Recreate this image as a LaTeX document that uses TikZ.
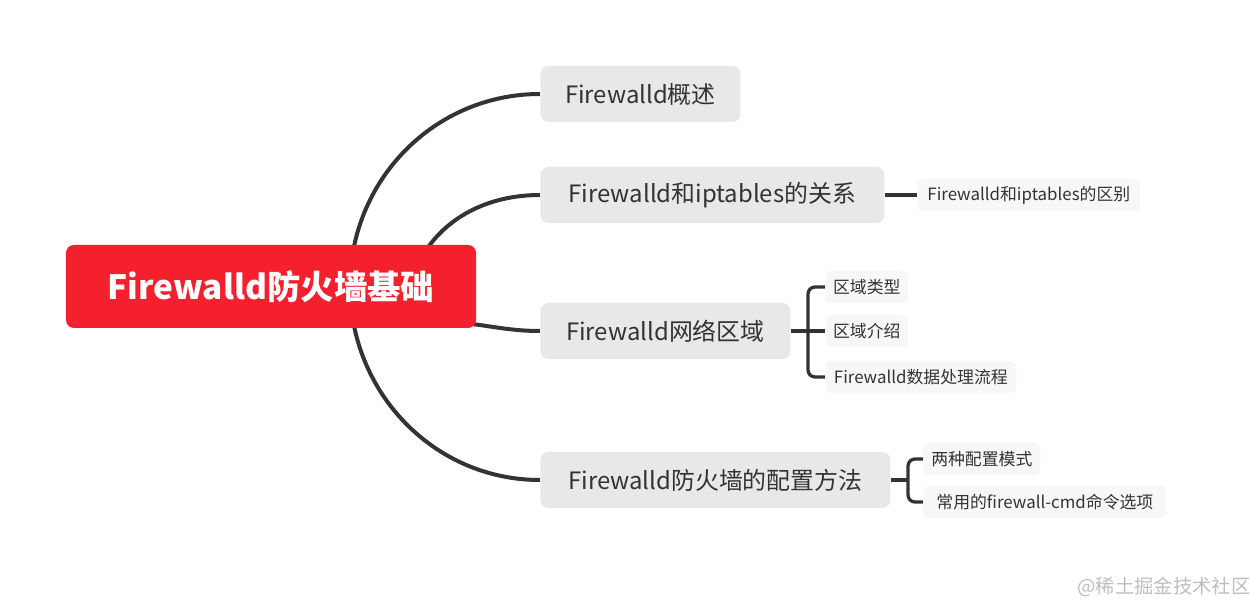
\documentclass[tikz,border=0pt]{standalone}
\usepackage{fontspec}
\setmainfont{Noto Sans CJK SC}
\usepackage{xcolor}
\usetikzlibrary{positioning, backgrounds}
\definecolor{rootred}{RGB}{245,32,45}
\definecolor{topicgray}{RGB}{232,232,232}
\definecolor{subgray}{RGB}{247,247,247}
\definecolor{inkdark}{RGB}{51,51,51}
\definecolor{markgray}{RGB}{190,190,190}
\tikzset{
  rootbox/.style={
    rounded corners=1.6mm, fill=rootred, text=white,
    minimum width=82mm, minimum height=16.6mm,
    font=\fontsize{19}{22}\selectfont\bfseries
  },
  topicbox/.style={
    rounded corners=1.6mm, fill=topicgray, text=inkdark, anchor=west,
    minimum height=11.2mm, inner xsep=2pt,
    font=\fontsize{13.6}{16}\selectfont
  },
  subbox/.style={
    rounded corners=1.2mm, fill=subgray, text=inkdark, anchor=west,
    minimum height=6.4mm, inner xsep=2pt,
    font=\fontsize{9.6}{11}\selectfont
  },
  topicline/.style={line width=0.8mm, draw=inkdark},
  subline/.style={line width=0.65mm, draw=inkdark, rounded corners=1.4mm},
  marknote/.style={text=markgray, font=\fontsize{11}{13}\selectfont},
}
\begin{document}
\begin{tikzpicture}[x=0.2mm, y=-0.2mm]
  \useasboundingbox (0,0) rectangle (1250,606);

  % Root
  \node[rootbox] (root) at (271,286.5) {Firewalld防火墙基础};

  % Topics
  \node[topicbox, minimum width=40mm] (t1) at (540,94) {Firewalld概述};
  \node[topicbox, minimum width=68.8mm] (t2) at (540,195) {Firewalld和iptables的关系};
  \node[topicbox, minimum width=50mm] (t3) at (540,331) {Firewalld网络区域};
  \node[topicbox, minimum width=70mm] (t4) at (540,480) {Firewalld防火墙的配置方法};

  % Details
  \node[subbox, minimum width=44.6mm] (s21) at (917,195) {Firewalld和iptables的区别};
  \node[subbox, minimum width=16.6mm] (s31) at (825,287) {区域类型};
  \node[subbox, minimum width=16.6mm] (s32) at (825,331) {区域介绍};
  \node[subbox, minimum width=38.2mm] (s33) at (825,377) {Firewalld数据处理流程};
  \node[subbox, minimum width=23.4mm] (s41) at (923,459) {两种配置模式};
  \node[subbox, minimum width=48.6mm] (s42) at (923,502) {常用的firewall-cmd命令选项};

  % Watermark
  \node[marknote] (mark) at (1164,587) {@稀土掘金技术社区};

  % Branch points
  \coordinate (hub) at (350,286);
  \coordinate (hub2) at (408,290);
  \coordinate (hub3) at (440,322);
  \coordinate (k3) at (808,331);
  \coordinate (k4) at (908,480);

  \begin{scope}[on background layer]
    \draw[topicline] (hub) to[out=90, in=180] (t1.west);
    \draw[topicline] (hub2) to[out=75, in=180] (t2.west);
    \draw[topicline] (hub3) to[out=0, in=180] (t3.west);
    \draw[topicline] (hub) to[out=-90, in=180] (t4.west);

    \draw[subline] (t2.east) -- (s21.west);
    \draw[subline] (t3.east) -- (k3) -- (s32.west);
    \draw[subline] (s31.west) -| (k3) |- (s33.west);
    \draw[subline] (t4.east) -- (k4);
    \draw[subline] (s41.west) -| (k4) |- (s42.west);
  \end{scope}
\end{tikzpicture}
\end{document}
